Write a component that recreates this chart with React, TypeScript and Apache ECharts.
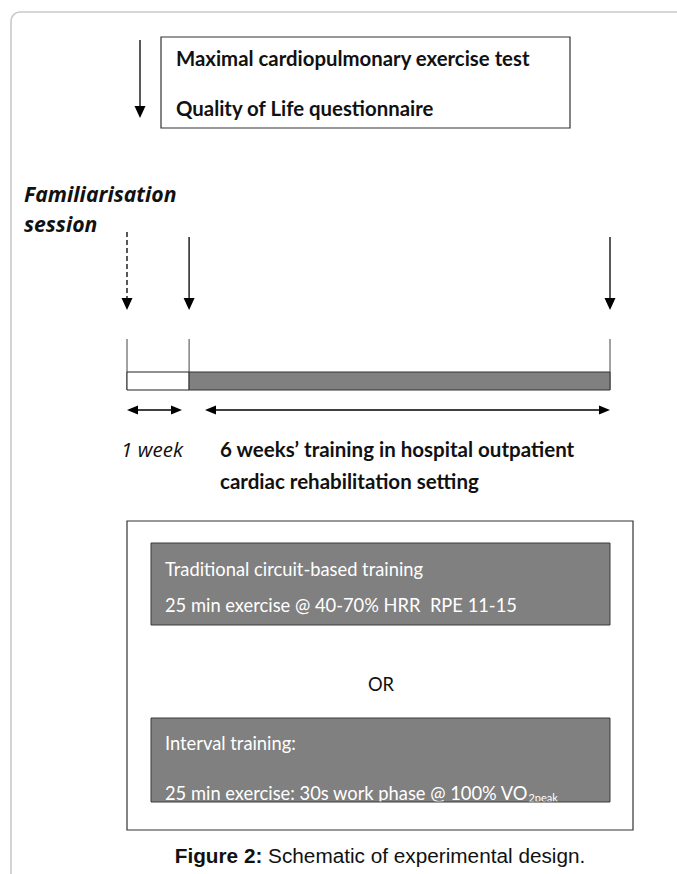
import React, { useEffect, useRef } from "react";
import * as echarts from "echarts";

// ---- content ----
const assessments = ["Maximal cardiopulmonary exercise test", "Quality of Life questionnaire"];
const familiarisationLabel = ["Familiarisation", "session"];
const phaseLabels = ["1 week", "6 weeks\u2019 training in hospital outpatient", "cardiac rehabilitation setting"];
const phaseWeeks = [1, 6];
const traditionalLines = ["Traditional circuit-based training", "25 min exercise @ 40-70% HRR  RPE 11-15"];
const intervalLines = ["Interval training:", "25 min exercise: 30s work phase @ 100% VO"];
const intervalSub = "2peak";
const orLabel = "OR";
const captionBold = "Figure 2:";
const captionText = " Schematic of experimental design.";

const BODY = "Lato, 'Open Sans', sans-serif";
const ITALIC = "'Open Sans', Lato, sans-serif";
const CAPTION = "'Liberation Sans', Arial, sans-serif";

let measureCtx: CanvasRenderingContext2D | null = null;
function fitSize(text: string, prefix: string, family: string, target: number, fallback: number): number {
  try {
    if (!measureCtx) measureCtx = document.createElement("canvas").getContext("2d");
    if (!measureCtx) return fallback;
    measureCtx.font = `${prefix} 100px ${family}`;
    const w = measureCtx.measureText(text).width;
    if (!w) return fallback;
    return (100 * target) / w;
  } catch (e) {
    return fallback;
  }
}

function downArrow(x: number, y1: number, y2: number, dashed = false): any[] {
  return [
    {
      type: "line",
      shape: { x1: x, y1, x2: x, y2: y2 - 11 },
      style: { stroke: "#000", lineWidth: 1.3, lineDash: dashed ? [5, 3] : null },
    },
    {
      type: "polygon",
      shape: { points: [[x - 5.5, y2 - 12], [x + 5.5, y2 - 12], [x, y2]] },
      style: { fill: "#000" },
    },
  ];
}

function doubleArrow(x1: number, x2: number, y: number): any[] {
  return [
    { type: "line", shape: { x1: x1 + 9, y1: y, x2: x2 - 9, y2: y }, style: { stroke: "#000", lineWidth: 1.3 } },
    { type: "polygon", shape: { points: [[x1, y], [x1 + 11, y - 4.5], [x1 + 11, y + 4.5]] }, style: { fill: "#000" } },
    { type: "polygon", shape: { points: [[x2, y], [x2 - 11, y - 4.5], [x2 - 11, y + 4.5]] }, style: { fill: "#000" } },
  ];
}

function txt(x: number, y: number, text: string, o: any = {}): any {
  return {
    type: "text",
    x,
    y,
    style: {
      text,
      fill: o.fill || "#111",
      font: `${o.italic ? "italic " : ""}${o.bold ? "bold " : ""}${(o.size || 16).toFixed(2)}px ${o.family || BODY}`,
      textAlign: o.align || "left",
      textVerticalAlign: "middle",
      rich: o.rich,
    },
  };
}

export default function App() {
  const ref = useRef<HTMLDivElement>(null);
  useEffect(() => {
    document.body.style.margin = "0";
    const chart = echarts.init(ref.current!, null, { renderer: "svg" });

    // font sizes fitted to the reference line widths
    const sAssess = fitSize(assessments[0], "bold", BODY, 354, 20);
    const sFam = Math.min(fitSize(familiarisationLabel[0], "italic bold", ITALIC, 160, 21), 21.2);
    const sWeek = fitSize(phaseLabels[0], "italic", ITALIC, 62, 17);
    const sPhase = fitSize(phaseLabels[1], "bold", BODY, 355, 20);
    const sBox = fitSize(traditionalLines[1], "", BODY, 352, 18.5);
    const sCap = fitSize(captionBold + captionText, "", CAPTION, 405, 19);

    // timeline geometry
    const tStart = 127;
    const tEnd = 610;
    const weekPx = (tEnd - 189) / phaseWeeks[1];
    const famEnd = tStart + phaseWeeks[0] * weekPx * 0.885;

    const els: any[] = [];
    // outer page frame
    els.push({
      type: "rect",
      shape: { x: 11, y: 12, width: 720, height: 920, r: 9 },
      style: { fill: "none", stroke: "#c9c9c9", lineWidth: 1.6 },
    });

    // top assessment box
    els.push({
      type: "rect",
      shape: { x: 161, y: 37, width: 409, height: 91 },
      style: { fill: "#fff", stroke: "#333", lineWidth: 1.2 },
    });
    els.push(...downArrow(140, 40, 118));
    els.push(txt(176, 58, assessments[0], { bold: true, size: sAssess }));
    els.push(txt(176, 108, assessments[1], { bold: true, size: sAssess }));

    // familiarisation
    els.push(txt(24, 193, familiarisationLabel[0], { bold: true, italic: true, size: sFam, family: ITALIC }));
    els.push(txt(24, 223, familiarisationLabel[1], { bold: true, italic: true, size: sFam, family: ITALIC }));
    els.push(...downArrow(tStart, 232, 310, true));
    els.push(...downArrow(famEnd, 237, 310));
    els.push(...downArrow(tEnd, 237, 310));

    // timeline
    for (const x of [tStart, famEnd, tEnd]) {
      els.push({ type: "line", shape: { x1: x, y1: 339, x2: x, y2: 390 }, style: { stroke: "#444", lineWidth: 1 } });
    }
    els.push({
      type: "rect",
      shape: { x: tStart, y: 372, width: famEnd - tStart, height: 18 },
      style: { fill: "#fff", stroke: "#222", lineWidth: 1 },
    });
    els.push({
      type: "rect",
      shape: { x: famEnd, y: 372, width: tEnd - famEnd, height: 18 },
      style: { fill: "#808080", stroke: "#333", lineWidth: 1 },
    });
    els.push(...doubleArrow(tStart, 182, 410));
    els.push(...doubleArrow(205, tEnd, 410));
    els.push(txt(121, 449, phaseLabels[0], { italic: true, size: sWeek, family: ITALIC }));
    els.push(txt(220, 449, phaseLabels[1], { bold: true, size: sPhase }));
    els.push(txt(220, 481, phaseLabels[2], { bold: true, size: sPhase }));

    // training options box
    els.push({
      type: "rect",
      shape: { x: 127, y: 521, width: 506, height: 309 },
      style: { fill: "#fff", stroke: "#333", lineWidth: 1.2 },
    });
    els.push({
      type: "rect",
      shape: { x: 151, y: 543, width: 459, height: 82 },
      style: { fill: "#808080", stroke: "none" },
    });
    els.push(txt(165, 569, traditionalLines[0], { fill: "#fff", size: sBox }));
    els.push(txt(165, 605, traditionalLines[1], { fill: "#fff", size: sBox }));
    els.push({
      type: "rect",
      shape: { x: 151, y: 543, width: 459, height: 82 },
      style: { fill: "none", stroke: "#3a3a3a", lineWidth: 1 },
    });

    els.push(txt(381, 684, orLabel, { size: sBox, align: "center" }));

    els.push({
      type: "rect",
      shape: { x: 151, y: 718, width: 459, height: 84 },
      style: { fill: "#808080", stroke: "none" },
    });
    els.push(txt(165, 743, intervalLines[0], { fill: "#fff", size: sBox }));
    els.push(
      txt(165, 793, `${intervalLines[1]}{sub|${intervalSub}}`, {
        fill: "#fff",
        size: sBox,
        rich: {
          sub: {
            fontSize: Math.round(sBox * 0.62),
            fill: "#fff",
            fontFamily: BODY,
            verticalAlign: "bottom",
            padding: [9, 0, 0, 0],
          },
        },
      })
    );
    // clip the overflowing last line at the box edge
    els.push({
      type: "rect",
      shape: { x: 152, y: 802.5, width: 457, height: 20 },
      style: { fill: "#fff", stroke: "none" },
    });
    els.push({
      type: "rect",
      shape: { x: 151, y: 718, width: 459, height: 84 },
      style: { fill: "none", stroke: "#3a3a3a", lineWidth: 1 },
    });

    // caption
    els.push(
      txt(380, 855, `{b|${captionBold}}${captionText}`, {
        family: CAPTION,
        size: sCap,
        align: "center",
        rich: { b: { fontWeight: "bold", fontSize: sCap, fontFamily: CAPTION, fill: "#111" } },
      })
    );

    chart.setOption({
      animation: false,
      backgroundColor: "#fff",
      graphic: { elements: els },
    });
    return () => chart.dispose();
  }, []);
  return <div ref={ref} style={{ position: "absolute", left: 0, top: 0, width: 677, height: 874 }} />;
}
